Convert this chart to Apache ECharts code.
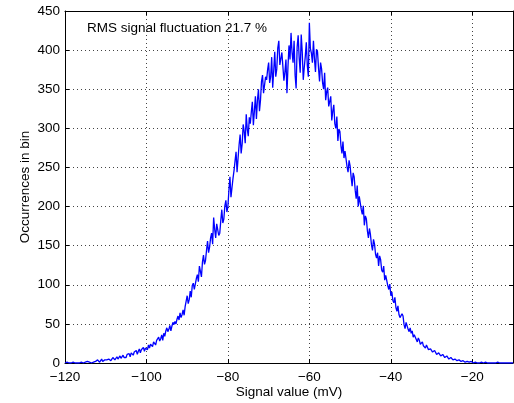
<!DOCTYPE html>
<html>
<head>
<meta charset="utf-8">
<style>
  html, body { margin: 0; padding: 0; background: #fff; }
  #chart { width: 514px; height: 403px; }
</style>
<script src="https://cdn.jsdelivr.net/npm/echarts@6/dist/echarts.min.js"></script>
</head>
<body>
<div id="chart"></div>
<script>
// histogram bins: first bin centre and bin width (mV)
const binStart = -120;
const binWidth = 0.25;

// occurrences in each bin (one row = 5 mV)
const counts = [
  0, 0, 1, 0, 0, 1, 0, 0, 1, 1, 0, 2, 0, 1, 0, 0, 1, 2, 0, 1,                          // -120
  1, 0, 2, 1, 1, 3, 0, 2, 1, 3, 2, 1, 4, 2, 1, 3, 5, 2, 3, 4,                          // -115
  2, 4, 3, 5, 6, 3, 4, 7, 5, 4, 6, 8, 5, 7, 9, 6, 8, 10, 7, 9,                         // -110
  7, 11, 9, 12, 8, 13, 11, 10, 14, 12, 16, 11, 15, 18, 13, 17, 16, 20, 15, 19,         // -105
  21, 17, 23, 19, 24, 22, 21, 27, 25, 23, 29, 27, 33, 28, 31, 36, 29, 38, 34, 41,      // -100
  45, 40, 43, 48, 41, 47, 52, 49, 53, 50, 56, 60, 55, 64, 58, 62, 68, 61, 72, 70,      // -95
  86, 76, 81, 92, 84, 99, 102, 94, 96, 108, 113, 104, 124, 117, 110, 129, 138, 126, 131, 144,          // -90
  156, 141, 148, 160, 166, 152, 186, 171, 160, 178, 176, 163, 166, 182, 196, 179, 184, 201, 208, 193,  // -85
  200, 221, 238, 212, 224, 236, 246, 258, 270, 244, 262, 279, 292, 268, 280, 305, 296, 281, 318, 299,  // -80
  290, 314, 306, 321, 334, 304, 322, 341, 312, 336, 350, 322, 336, 360, 368, 345, 344, 366, 362, 375,  // -75
  384, 358, 366, 391, 352, 374, 398, 366, 376, 403, 412, 381, 380, 397, 396, 361, 372, 388, 345, 379,  // -70
  406, 388, 422, 397, 384, 412, 368, 351, 404, 419, 390, 371, 420, 398, 362, 378, 392, 410, 380, 366,  // -65
  435, 402, 396, 384, 412, 389, 372, 401, 398, 377, 360, 384, 376, 358, 350, 371, 336, 347, 352, 328,  // -60
  326, 341, 310, 322, 330, 306, 300, 315, 284, 299, 296, 278, 268, 283, 262, 271, 272, 251, 244, 259,  // -55
  252, 238, 226, 243, 238, 221, 210, 227, 200, 213, 214, 196, 190, 201, 176, 188, 184, 169, 160, 172,  // -50
  164, 151, 144, 158, 152, 139, 134, 141, 124, 137, 132, 119, 116, 124, 106, 112, 110, 99, 94, 101,    // -45
  86, 91, 80, 77, 84, 71, 66, 73, 62, 58, 56, 63, 60, 49, 44, 52, 50, 43, 40, 45,      // -40
  38, 41, 33, 36, 35, 30, 27, 32, 29, 24, 24, 27, 22, 20, 19, 23, 21, 17, 15, 18,      // -35
  18, 14, 13, 16, 15, 11, 11, 13, 12, 9, 9, 11, 10, 7, 7, 9, 8, 5, 5, 7,               // -30
  6, 4, 4, 5, 5, 3, 3, 4, 4, 2, 2, 3, 3, 1, 2, 2, 3, 1, 1, 2,                          // -25
  2, 0, 1, 1, 2, 0, 1, 0, 0, 1, 1, 0, 0, 1, 0, 0, 1, 0, 0, 0,                          // -20
  1, 0, 0, 0, 0, 1, 0, 0, 0, 0, 0, 0, 1, 0, 0, 0, 0, 0, 0, 0,                          // -15
  0                                                                                    // -10
];

const xTicks = [-120, -100, -80, -60, -40, -20];
const annotation = 'RMS signal fluctuation 21.7 %';

const chart = echarts.init(document.getElementById('chart'), null, { renderer: 'canvas' });

const fontFamily = '"Liberation Sans", Arial, Helvetica, sans-serif';
const seriesData = counts.map((c, i) => [binStart + i * binWidth, c]);

// dotted grid like the original
const dotted = { color: '#444', width: 1, type: [1, 3] };

function minusFmt(v) {
  if (xTicks.indexOf(v) < 0) return '';
  return String(v).replace('-', '\u2212');
}

const option = {
  animation: false,
  grid: { left: 65, top: 11, right: 1, bottom: 40, containLabel: false, outerBoundsMode: 'none' },
  xAxis: [{
    type: 'value',
    min: -120,
    max: -10,
    interval: 20,
    name: 'Signal value (mV)',
    nameLocation: 'middle',
    nameGap: 22,
    nameMoveOverlap: false,
    nameTextStyle: { color: '#000', fontSize: 13.5, fontFamily: fontFamily },
    axisLine: { onZero: false, lineStyle: { color: '#000', width: 1 } },
    axisTick: { inside: true, length: 4, lineStyle: { color: '#000' } },
    axisLabel: { color: '#000', fontSize: 13.5, fontFamily: fontFamily, margin: 7, formatter: minusFmt },
    splitLine: { show: true, lineStyle: dotted }
  }, {
    type: 'value',
    position: 'top',
    min: -120,
    max: -10,
    interval: 20,
    axisLine: { onZero: false, lineStyle: { color: '#000', width: 1 } },
    axisTick: { inside: true, length: 4, lineStyle: { color: '#000' } },
    axisLabel: { show: false },
    splitLine: { show: false }
  }],
  yAxis: [{
    type: 'value',
    min: 0,
    max: 450,
    interval: 50,
    name: 'Occurrences in bin',
    nameLocation: 'middle',
    nameGap: 33,
    nameMoveOverlap: false,
    nameTextStyle: { color: '#000', fontSize: 13.5, fontFamily: fontFamily },
    axisLine: { show: true, lineStyle: { color: '#000', width: 1 } },
    axisTick: { show: true, inside: true, length: 4, lineStyle: { color: '#000' } },
    axisLabel: { color: '#000', fontSize: 13.5, fontFamily: fontFamily, margin: 5 },
    splitLine: { show: true, lineStyle: dotted }
  }, {
    type: 'value',
    position: 'right',
    min: 0,
    max: 450,
    interval: 50,
    axisLine: { show: true, lineStyle: { color: '#000', width: 1 } },
    axisTick: { show: true, inside: true, length: 4, lineStyle: { color: '#000' } },
    axisLabel: { show: false },
    splitLine: { show: false }
  }],
  graphic: [{
    type: 'text',
    left: 87,
    top: 21,
    style: {
      text: annotation,
      fill: '#000',
      fontSize: 13.5,
      fontFamily: fontFamily
    }
  }],
  series: [{
    type: 'line',
    xAxisIndex: 0,
    yAxisIndex: 0,
    data: seriesData,
    showSymbol: false,
    lineStyle: { color: '#0000ff', width: 1.3 },
    itemStyle: { color: '#0000ff' }
  }]
};

chart.setOption(option);
</script>
</body>
</html>
